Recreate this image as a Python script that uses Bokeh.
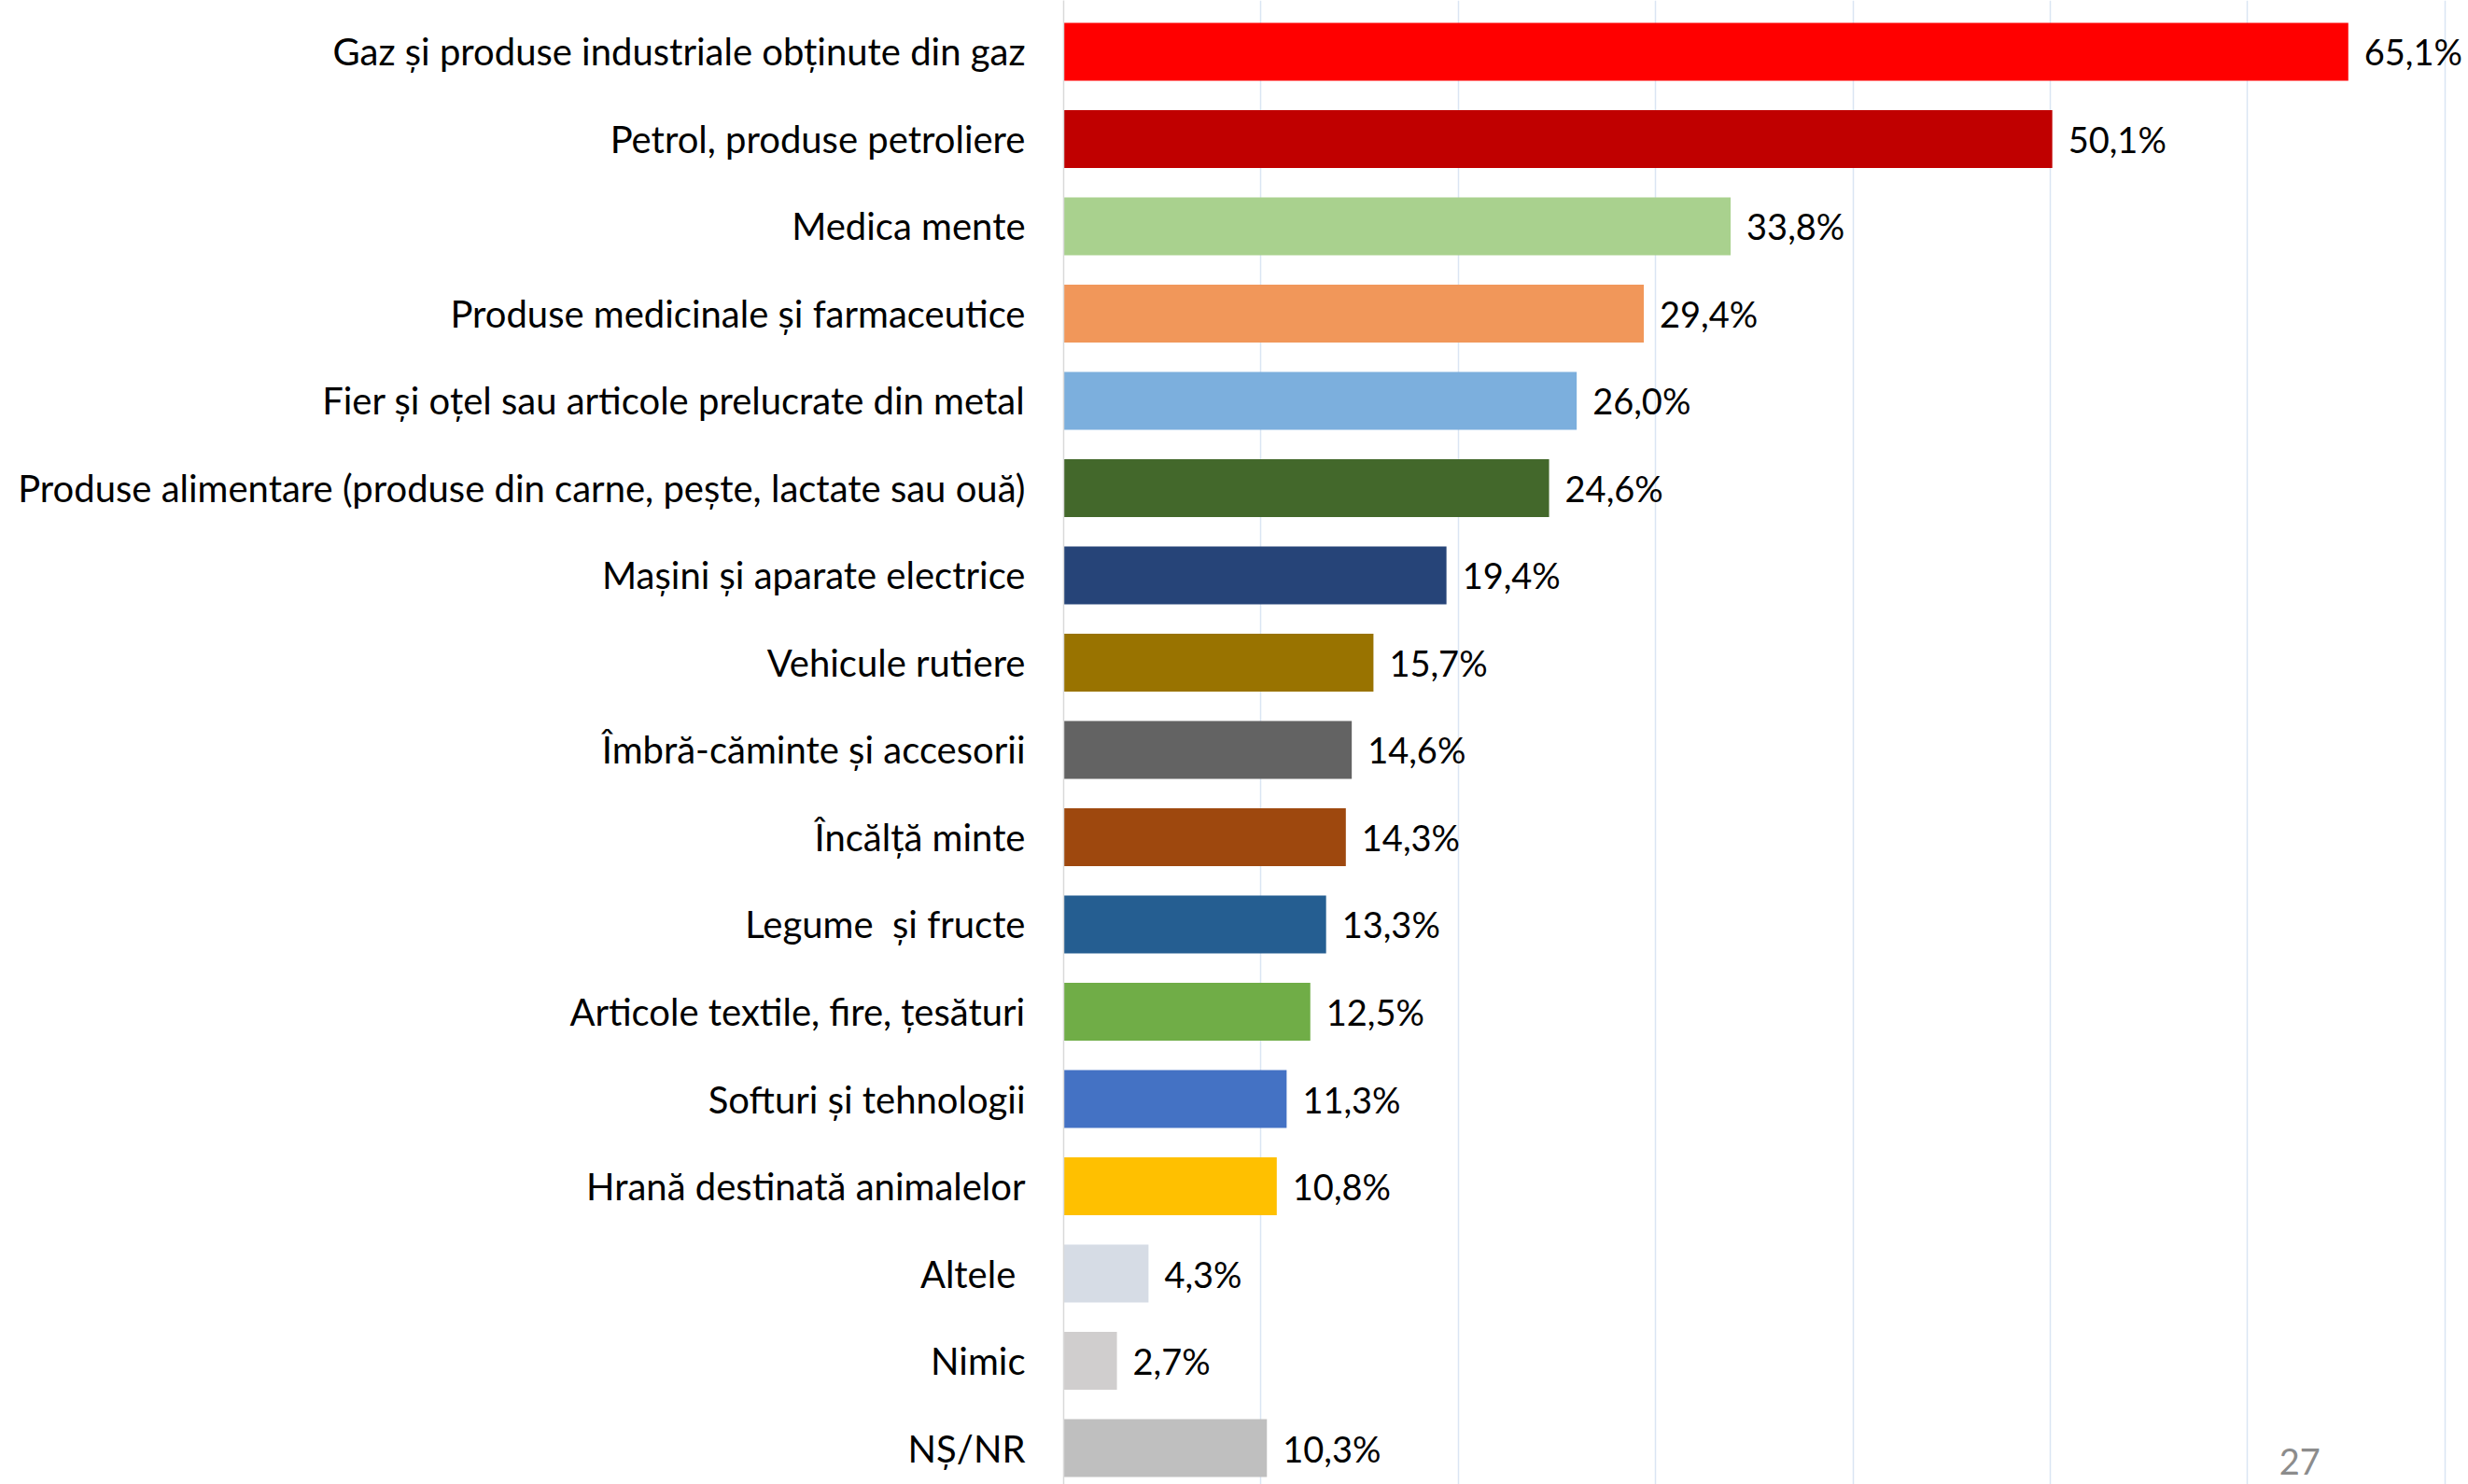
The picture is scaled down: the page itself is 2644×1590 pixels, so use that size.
from bokeh.plotting import figure
from bokeh.models import ColumnDataSource, LabelSet, Label, Range1d, FixedTicker
from bokeh.core.properties import value
from bokeh.embed import file_html
from bokeh.resources import INLINE

categories = [
    "Gaz și produse industriale obținute din gaz",
    "Petrol, produse petroliere",
    "Medica mente",
    "Produse medicinale și farmaceutice",
    "Fier și oțel sau articole prelucrate din metal",
    "Produse alimentare (produse din carne, pește, lactate sau ouă)",
    "Mașini și aparate electrice",
    "Vehicule rutiere",
    "Îmbră-căminte și accesorii",
    "Încălță minte",
    "Legume\u00a0 și fructe",
    "Articole textile, fire, țesături",
    "Softuri și tehnologii",
    "Hrană destinată animalelor",
    "Altele\u00a0",
    "Nimic",
    "NȘ/NR",
]
values = [65.1, 50.1, 33.8, 29.4, 26.0, 24.6, 19.4, 15.7, 14.6, 14.3, 13.3, 12.5, 11.3, 10.8, 4.3, 2.7, 10.3]
colors = ["#FF0000", "#C00000", "#A9D18E", "#F1975A", "#7CAFDD", "#43682B", "#264478", "#997300",
          "#636363", "#9E480E", "#255E91", "#70AD47", "#4472C4", "#FFC000", "#D6DCE5", "#D0CECE", "#BFBFBF"]
grid_ticks = [0, 10, 20, 30, 40, 50, 60, 70]
page_number = "27"

FONT = "Lato"
ypos = list(range(len(categories)))
labels = [("%.1f" % v).replace(".", ",") + "%" for v in values]

src = ColumnDataSource(dict(y=ypos, value=values, color=colors, label=labels))

p = figure(width=2644, height=1590, output_backend="svg", toolbar_location=None,
           x_range=Range1d(0, 71.19), y_range=Range1d(16.417, -0.588),
           min_border_left=1139, min_border_right=0, min_border_top=0, min_border_bottom=0)
p.outline_line_color = None
p.background_fill_color = "white"
p.border_fill_color = "white"

p.hbar(y="y", left=0, right="value", height=0.663, color="color", line_color=None, source=src)

p.add_layout(LabelSet(x="value", y="y", text="label", source=src, x_offset=17,
                      text_baseline="middle", text_align="left",
                      text_font=value(FONT), text_font_size=value("38px"), text_color=value("black")))

p.xaxis.ticker = FixedTicker(ticks=grid_ticks)
p.xaxis.visible = False
p.xgrid.ticker = FixedTicker(ticks=grid_ticks)
p.xgrid.grid_line_color = "#DAE5F3"
p.xgrid.grid_line_width = 1.5
p.ygrid.visible = False

p.yaxis.ticker = FixedTicker(ticks=ypos)
p.yaxis.major_label_overrides = {i: c for i, c in zip(ypos, categories)}
p.yaxis.major_label_text_font = FONT
p.yaxis.major_label_text_font_size = "40px"
p.yaxis.major_label_text_color = "black"
p.yaxis.major_tick_out = 0
p.yaxis.major_tick_in = 0
p.yaxis.minor_tick_out = 0
p.yaxis.minor_tick_in = 0
p.yaxis.major_label_standoff = 41
p.yaxis.axis_line_color = "#D9D9D9"
p.yaxis.axis_line_width = 1.5

p.add_layout(Label(x=61.6, y=16.0, text=page_number, text_baseline="top",
                   text_font=FONT, text_font_size="38px", text_color="#8C8C8C"))

open("out.html", "w").write(file_html(p, INLINE))
